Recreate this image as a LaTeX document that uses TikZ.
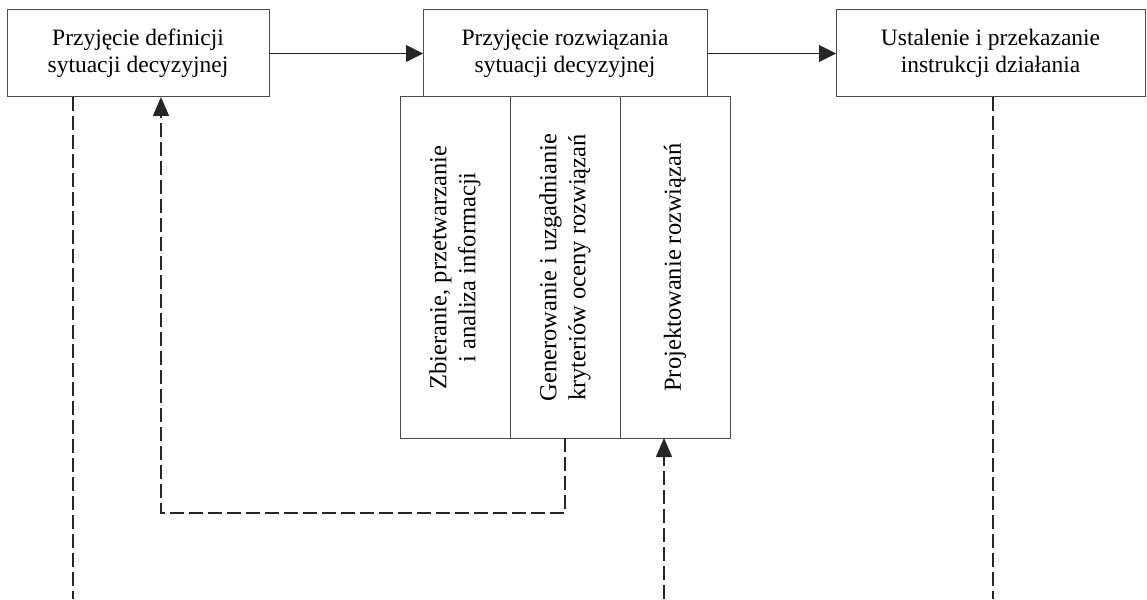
\documentclass[tikz,border=0pt]{standalone}
\usepackage{fontspec}
\setmainfont{Liberation Serif}
\usetikzlibrary{positioning,arrows.meta}

\begin{document}
\begin{tikzpicture}[x=1pt,y=-1pt,
    stage/.style={draw=black!70, line width=1pt, rectangle, minimum height=87pt, align=center, inner sep=0pt, outer sep=0pt, font=\fontsize{23.5}{27}\selectfont},
    panel/.style={draw=black!70, line width=1pt, rectangle, minimum width=110pt, minimum height=341pt, inner sep=0pt, outer sep=0pt, font=\fontsize{24.5}{29}\selectfont},
    flow/.style={black!85, line width=1pt, -{Triangle[length=17pt,width=17pt]}},
    fdash/.style={black!85, line width=1.6pt, dash pattern=on 14pt off 5pt, -{Triangle[length=19pt,width=16pt]}},
    ldash/.style={black!85, line width=1.6pt, dash pattern=on 14pt off 5pt}
]
    \useasboundingbox (0,0) rectangle (1147,599);

    \node [stage, minimum width=262pt] (def) at (138,53.5) {Przyjęcie definicji\\sytuacji decyzyjnej};
    \node [stage, minimum width=284pt] (rozw) at (565,53.5) {Przyjęcie rozwiązania\\sytuacji decyzyjnej};
    \node [stage, minimum width=309pt] (instr) at (990.5,53.5) {Ustalenie i przekazanie\\instrukcji działania};

    \node [panel, anchor=north west] (zbier) at (400,97) {\rotatebox{90}{\begin{tabular}{@{}c@{}}Zbieranie, przetwarzanie\\i analiza informacji\end{tabular}}};
    \node [panel, right=0pt of zbier] (gen) {\rotatebox{90}{\begin{tabular}{@{}c@{}}Generowanie i uzgadnianie\\kryteriów oceny rozwiązań\end{tabular}}};
    \node [panel, right=0pt of gen] (proj) {\rotatebox{90}{Projektowanie rozwiązań}};

    \draw [flow] (def) -- (rozw);
    \draw [flow] (rozw) -- (instr);

    % sprzezenia zwrotne
    \coordinate (lb) at (73,599);
    \coordinate (fb) at (161,513);
    \coordinate (pb) at (664,599);
    \coordinate (rb) at (993,599);

    \draw [ldash] (def.south -| lb) -- (lb);
    \draw [fdash] (gen.south) |- (fb) -- (fb |- def.south);
    \draw [fdash] (pb) -- (pb |- proj.south);
    \draw [ldash] (instr.south -| rb) -- (rb);
\end{tikzpicture}
\end{document}
